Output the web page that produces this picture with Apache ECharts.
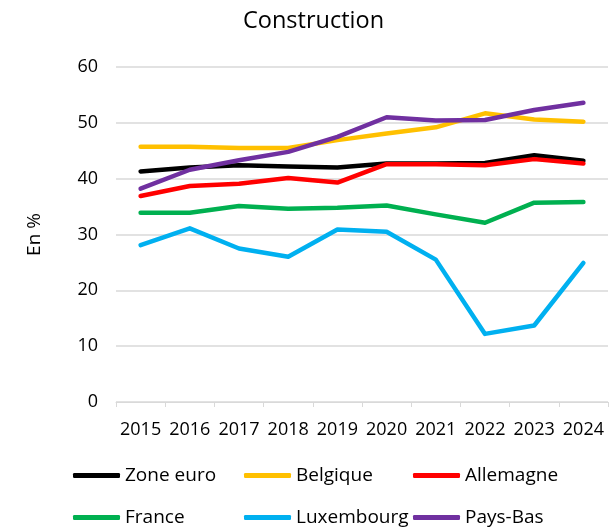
<!DOCTYPE html>
<html><head><meta charset="utf-8">
<script src="https://cdn.jsdelivr.net/npm/echarts@6/dist/echarts.min.js"></script>
<style>html,body{margin:0;padding:0;background:#fff}#c{width:610px;height:531px}</style>
</head><body><div id="c"></div>
<script>
const years = ['2015','2016','2017','2018','2019','2020','2021','2022','2023','2024'];
const zoneEuro   = [41.3, 42.0, 42.4, 42.2, 42.0, 42.7, 42.7, 42.8, 44.2, 43.2];
const belgique   = [45.7, 45.7, 45.5, 45.5, 46.9, 48.1, 49.2, 51.7, 50.6, 50.2];
const allemagne  = [36.9, 38.7, 39.1, 40.1, 39.3, 42.6, 42.6, 42.4, 43.5, 42.7];
const france     = [33.9, 33.9, 35.1, 34.6, 34.8, 35.2, 33.6, 32.1, 35.7, 35.8];
const luxembourg = [28.1, 31.1, 27.5, 26.0, 30.9, 30.5, 25.5, 12.2, 13.7, 24.9];
const paysBas    = [38.2, 41.6, 43.3, 44.8, 47.5, 51.0, 50.4, 50.5, 52.3, 53.6];
const seriesNames = ['Zone euro','Belgique','Allemagne','France','Luxembourg','Pays-Bas'];
const seriesData = [zoneEuro, belgique, allemagne, france, luxembourg, paysBas];
const colors = ['#000000','#FFC000','#FF0000','#00B050','#00B0F0','#7030A0'];

const font = 'Open Sans';
const legendPos = [[68,461],[239,461],[408,461],[68,503],[239,503],[408,503]];
const chart = echarts.init(document.getElementById('c'), null, {renderer:'canvas'});
chart.setOption({
  animation: false,
  color: colors,
  title: {text:'Construction', left:238, top:4,
    textStyle:{fontFamily:font, fontSize:23.5, fontWeight:'normal', color:'#000'}},
  legend: seriesNames.map((n,i)=>({
    data:[n], left:legendPos[i][0], top:legendPos[i][1],
    icon:'roundRect', itemWidth:47, itemHeight:5, itemGap:0,
    textStyle:{fontFamily:font, fontSize:19, color:'#000'}
  })),
  grid: {left:116, right:2, top:67, bottom:129},
  xAxis: {type:'category', data:years, boundaryGap:true,
    axisLine:{lineStyle:{color:'#d9d9d9', width:1}},
    axisTick:{show:true, length:5, interval:0, lineStyle:{color:'#d9d9d9'}},
    axisLabel:{fontFamily:font, fontSize:18, color:'#000', margin:19, interval:0, hideOverlap:false}},
  yAxis: {type:'value', min:0, max:60, interval:10,
    name:'En %', nameLocation:'middle', nameGap:72,
    nameTextStyle:{fontFamily:font, fontSize:19, color:'#000'},
    axisLine:{show:false}, axisTick:{show:false},
    splitLine:{lineStyle:{color:'#d9d9d9', width:1.5}},
    axisLabel:{fontFamily:font, fontSize:18, color:'#000', margin:18}},
  series: seriesNames.map((n,i)=>({
    name:n, type:'line', data:seriesData[i], symbol:'none',
    lineStyle:{width:4.5, color:colors[i], cap:'round', join:'round'},
    itemStyle:{color:colors[i]}
  }))
});
</script></body></html>
